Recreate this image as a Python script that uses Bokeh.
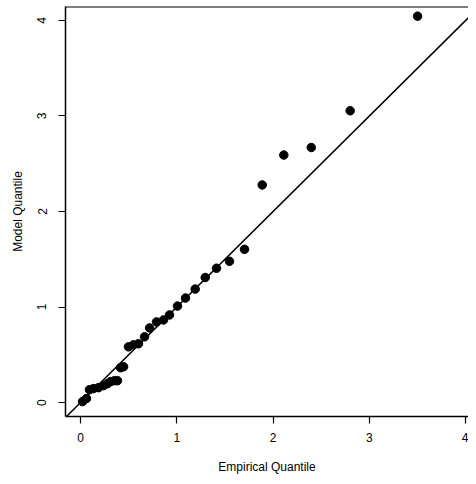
from bokeh.plotting import figure
from bokeh.models import Range1d, Slope, Span, FixedTicker
from bokeh.embed import file_html
from bokeh.resources import INLINE

empirical = [0.021, 0.062, 0.093, 0.135, 0.187, 0.239, 0.280, 0.312, 0.353, 0.384,
             0.415, 0.447, 0.498, 0.550, 0.602, 0.665, 0.717, 0.789, 0.862, 0.924,
             1.007, 1.090, 1.191, 1.295, 1.412, 1.547, 1.703, 1.887, 2.111, 2.396,
             2.800, 3.500]
model = [0.010, 0.042, 0.135, 0.146, 0.156, 0.177, 0.198, 0.219, 0.229, 0.229,
         0.365, 0.375, 0.583, 0.604, 0.615, 0.688, 0.781, 0.844, 0.865, 0.917,
         1.010, 1.094, 1.188, 1.309, 1.406, 1.479, 1.604, 2.278, 2.591, 2.670,
         3.055, 4.045]
ticks = [0, 1, 2, 3, 4]

FONT = "Liberation Sans"

p = figure(width=468, height=476, output_backend="svg", toolbar_location=None,
           x_range=Range1d(-0.156, 4.029), y_range=Range1d(-0.146, 4.146),
           min_border_left=65, min_border_right=0, min_border_top=6, min_border_bottom=58)
p.outline_line_color = None
p.grid.visible = False
p.background_fill_color = "white"

for ax in (p.xaxis[0], p.yaxis[0]):
    ax.ticker = FixedTicker(ticks=ticks)
    ax.minor_tick_line_color = None
    ax.major_tick_in = 0
    ax.major_tick_out = 7
    ax.major_tick_line_width = 1.2
    ax.axis_line_width = 1.5
    ax.axis_line_color = "black"
    ax.major_tick_line_color = "black"
    ax.major_label_text_font = FONT
    ax.major_label_text_font_size = "12px"
    ax.major_label_text_color = "black"
    ax.axis_label_text_font = FONT
    ax.axis_label_text_font_size = "12px"
    ax.axis_label_text_font_style = "normal"
    ax.axis_label_text_color = "black"

p.xaxis.axis_label = "Empirical Quantile"
p.yaxis.axis_label = "Model Quantile"
p.xaxis.major_label_standoff = 9
p.xaxis.axis_label_standoff = 15
p.yaxis.major_label_orientation = "vertical"
p.yaxis.major_label_standoff = 12
p.yaxis.axis_label_standoff = 10

top = Span(location=4.146, dimension="width", line_color="black", line_width=2)
p.add_layout(top)

p.add_layout(Slope(gradient=1, y_intercept=0, line_color="black", line_width=1.5))
p.scatter(empirical, model, size=8.5, color="black")

open("out.html", "w").write(file_html(p, INLINE))
